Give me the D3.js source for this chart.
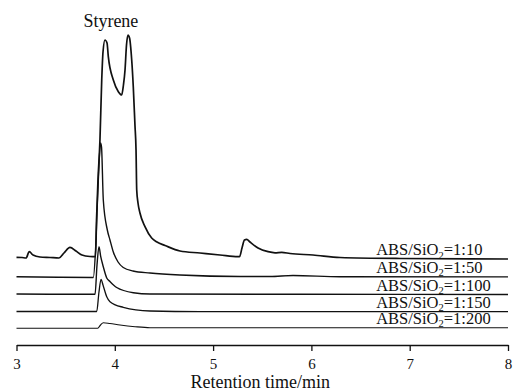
<!DOCTYPE html>
<html>
<head>
<meta charset="utf-8">
<script src="https://cdn.jsdelivr.net/npm/d3@7"></script>
<style>
  body { margin: 0; background: #fff; }
</style>
</head>
<body>
<div id="chart"></div>
<script>
// retention time (min), signal (a.u., traces already offset)
const ratios = ["1:10", "1:50", "1:100", "1:150", "1:200"];

const trace10 = [
  [3.0, 87.7], [3.056, 87.5], [3.097, 87], [3.13, 93.3], [3.168, 90], [3.239, 88], [3.341, 87.5],
  [3.432, 87], [3.483, 92], [3.544, 97.7], [3.605, 94], [3.666, 90], [3.748, 88.5], [3.804, 88.3],
  [3.814, 125], [3.829, 165], [3.849, 205], [3.867, 265], [3.880, 293], [3.900, 305], [3.921, 302],
  [3.934, 288.3], [3.985, 265], [4.036, 253.3], [4.070, 250], [4.088, 260], [4.104, 275], [4.119, 300],
  [4.134, 310], [4.150, 307], [4.172, 285], [4.188, 258.3], [4.205, 220], [4.216, 195], [4.223, 155],
  [4.236, 142], [4.256, 132], [4.307, 118.3], [4.375, 107], [4.429, 103], [4.511, 99.5], [4.663, 94],
  [4.867, 92], [5.070, 90], [5.253, 88.3], [5.269, 88.3], [5.294, 97], [5.319, 105], [5.342, 105.7],
  [5.375, 103], [5.457, 97], [5.559, 93.3], [5.630, 92.2], [5.698, 92.7], [5.783, 91.5], [6.016, 90],
  [6.291, 87.5], [6.901, 86.5], [8.0, 86]
];
const trace50 = [
  [3.0, 68.3], [3.443, 67.7], [3.781, 67.5], [3.804, 95], [3.824, 145], [3.839, 180], [3.855, 202],
  [3.865, 198], [3.883, 145], [3.924, 115], [3.951, 105], [3.985, 93], [4.033, 83], [4.086, 77.5],
  [4.185, 74], [4.358, 72], [4.663, 70], [5.274, 68.5], [5.579, 68.5], [5.813, 69.5], [6.291, 68.3],
  [8.0, 68.1]
];
const trace100 = [
  [3.0, 51], [3.443, 50.7], [3.799, 50.7], [3.819, 80], [3.839, 98.3], [3.857, 88.3], [3.883, 78.3],
  [3.918, 67], [3.951, 63.5], [4.019, 57.5], [4.188, 52.3], [4.358, 51], [5.884, 50.7], [8.0, 50.5]
];
const trace150 = [
  [3.0, 33.5], [3.816, 33.5], [3.839, 53], [3.860, 65.7], [3.880, 60], [3.918, 48.3], [3.951, 43.3],
  [4.086, 37.7], [4.358, 34], [4.867, 33.3], [8.0, 33.3]
];
const trace200 = [
  [3.0, 16.8], [3.826, 16.8], [3.855, 20], [3.883, 22.3], [3.951, 21.5], [4.053, 20], [4.206, 18.3],
  [4.358, 17.3], [8.0, 17.3]
];
const traces = [trace10, trace50, trace100, trace150, trace200];
const xTicks = [3, 4, 5, 6, 7, 8];

const FONT = "Liberation Serif";
const W = 513, H = 392;
const margin = {top: 35, right: 5, bottom: 47, left: 16.5};
const width = W - margin.left - margin.right;
const height = H - margin.top - margin.bottom;

const svg = d3.select("#chart").append("svg")
    .attr("width", W)
    .attr("height", H)
    .attr("font-family", FONT)
  .append("g")
    .attr("transform", "translate(" + margin.left + "," + margin.top + ")");

const x = d3.scaleLinear().domain([3, 8]).range([0, width]);
const y = d3.scaleLinear().domain([0, 310]).range([height, 0]);

const xAxis = svg.append("g")
    .attr("transform", "translate(0," + height + ")")
    .call(d3.axisBottom(x).tickValues(xTicks).tickFormat(d3.format("d"))
      .tickSize(6).tickSizeOuter(0).tickPadding(7));
xAxis.attr("font-family", FONT).attr("font-size", 15);
xAxis.select(".domain").attr("stroke", "#111").attr("stroke-width", 1.4);
xAxis.selectAll(".tick line").attr("stroke", "#111").attr("stroke-width", 1.3);
xAxis.selectAll(".tick text").attr("fill", "#111");

svg.append("text")
    .attr("x", x(5.48))
    .attr("y", height + 43)
    .attr("text-anchor", "middle")
    .attr("font-family", FONT)
    .attr("font-size", 18)
    .attr("fill", "#111")
    .text("Retention time/min");

const line = d3.line()
    .x(d => x(d[0]))
    .y(d => y(d[1]))
    .curve(d3.curveMonotoneX);

const widths = [1.7, 1.4, 1.4, 1.3, 1.1];
svg.selectAll("path.trace").data(traces)
  .enter()
    .append("path")
      .attr("class", "trace")
      .attr("d", line)
      .attr("fill", "none")
      .attr("stroke", "#111")
      .attr("stroke-width", (d, i) => widths[i]);

// labels sit just above the right end of each trace
const labels = svg.selectAll("text.ratio").data(ratios)
  .enter()
    .append("text")
      .attr("class", "ratio")
      .attr("x", x(6.659))
      .attr("y", (d, i) => y(traces[i][traces[i].length - 1][1]) - 4)
      .attr("font-family", FONT)
      .attr("font-size", 16.5)
      .attr("fill", "#111");
labels.append("tspan").text("ABS/SiO");
labels.append("tspan").attr("dy", 3.5).attr("font-size", 10.5).text("2");
labels.append("tspan").attr("dy", -3.5).text(d => "=" + d);

svg.append("text")
    .attr("x", x(3.96))
    .attr("y", -8)
    .attr("text-anchor", "middle")
    .attr("font-family", FONT)
    .attr("font-size", 18)
    .attr("fill", "#111")
    .text("Styrene");
</script>
</body>
</html>
